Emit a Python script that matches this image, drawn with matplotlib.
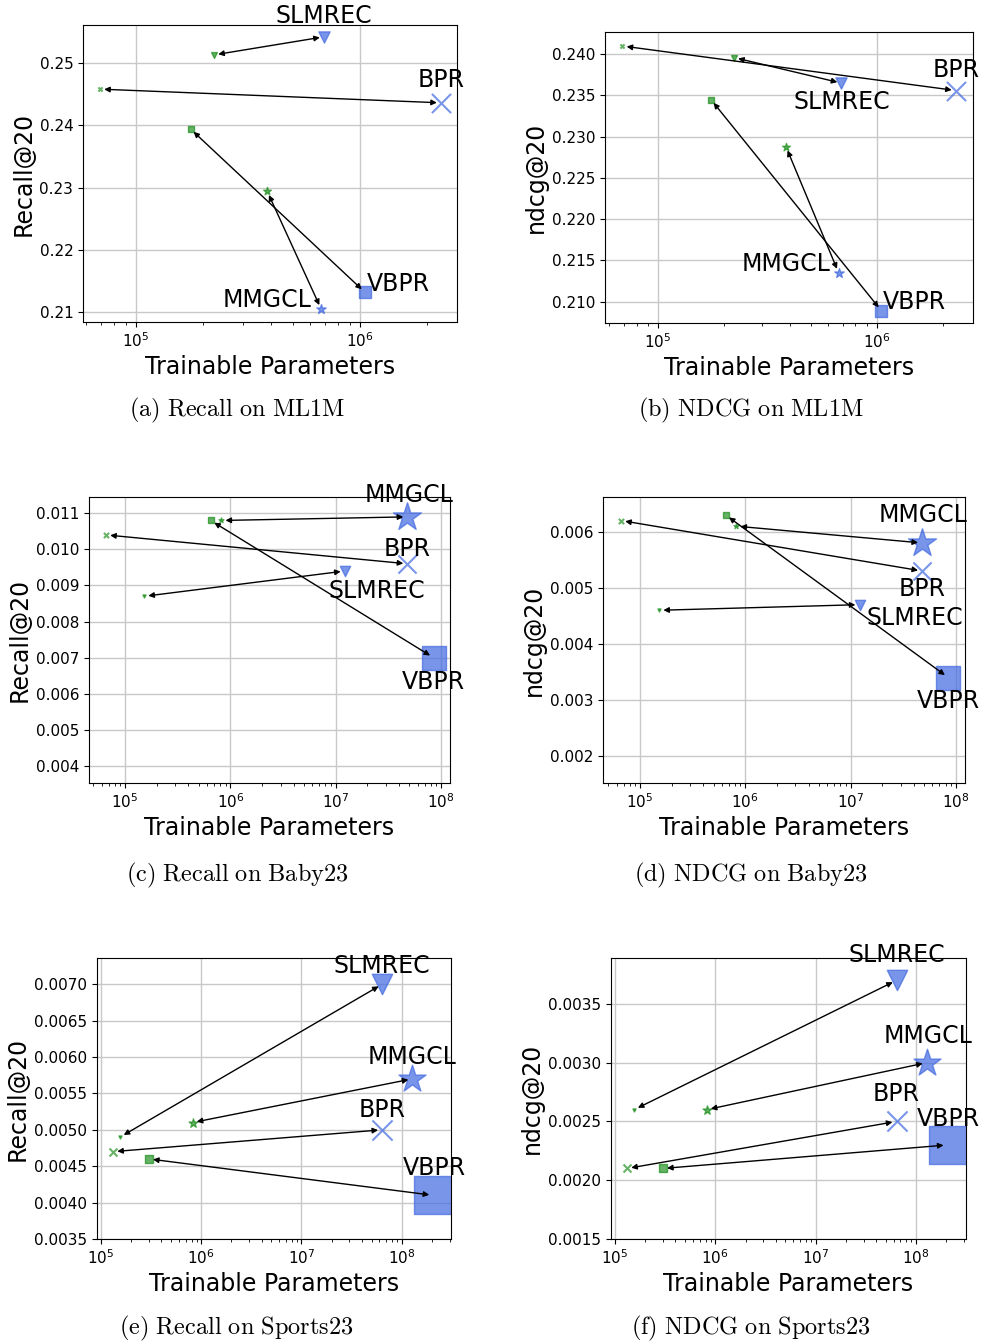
import numpy as np
import matplotlib
matplotlib.use('Agg')
import matplotlib.pyplot as plt
from matplotlib.ticker import MultipleLocator

plt.rcParams['mathtext.fontset'] = 'cm'

MODELS = ['BPR', 'VBPR', 'MMGCL', 'SLMREC']
MARKERS = ['x', 's', '*', 'v']
BLUE = 'royalblue'
GREEN = 'green'

# trainable parameters (blue = original, green = compressed)
ML1M_PARAM = [2.3e6, 1.05e6, 6.7e5, 6.9e5]
ML1M_PARAM_S = [6.9e4, 1.75e5, 3.85e5, 2.23e5]
BABY_PARAM = [4.8e7, 8.5e7, 4.8e7, 1.22e7]
BABY_PARAM_S = [6.6e4, 6.5e5, 8.2e5, 1.52e5]
SPORTS_PARAM = [6.4e7, 2.07e8, 1.28e8, 6.4e7]
SPORTS_PARAM_S = [1.32e5, 3.0e5, 8.2e5, 1.55e5]

# metrics
ML1M_RECALL = [0.2436, 0.2132, 0.2105, 0.2542]
ML1M_RECALL_S = [0.2458, 0.2394, 0.2294, 0.2513]
ML1M_NDCG = [0.2356, 0.2089, 0.2135, 0.2365]
ML1M_NDCG_S = [0.2410, 0.2345, 0.2288, 0.2396]
BABY_RECALL = [0.0096, 0.0070, 0.0109, 0.0094]
BABY_RECALL_S = [0.0104, 0.0108, 0.0108, 0.0087]
BABY_NDCG = [0.0053, 0.0034, 0.0058, 0.0047]
BABY_NDCG_S = [0.0062, 0.0063, 0.0061, 0.0046]
SPORTS_RECALL = [0.0050, 0.0041, 0.0057, 0.0070]
SPORTS_RECALL_S = [0.0047, 0.0046, 0.0051, 0.0049]
SPORTS_NDCG = [0.0025, 0.0023, 0.0030, 0.0037]
SPORTS_NDCG_S = [0.0021, 0.0021, 0.0026, 0.0026]

CAPTIONS = ['(a) Recall on ML1M', '(b) NDCG on ML1M',
            '(c) Recall on Baby23', '(d) NDCG on Baby23',
            '(e) Recall on Sports23', '(f) NDCG on Sports23']

# marker sizes per dataset (style)
BLUE_SIZE = {'ML1M': [190, 80, 50, 65], 'Baby23': [170, 310, 450, 55],
             'Sports23': [210, 710, 420, 215]}
GREEN_SIZE = {'ML1M': [9, 18, 35, 18], 'Baby23': [14, 18, 14, 5],
              'Sports23': [33, 33, 45, 5]}

W, H = 984, 1344


def add_ax(fig, l, r, t, b):
    return fig.add_axes([l / W, 1 - b / H, (r - l) / W, (b - t) / H])


def plot_panel(ax, dataset, params, params_s, vals, vals_s, ylabel,
               xlim, ylim, ystep, offsets):
    for i, m in enumerate(MODELS):
        ax.scatter(params[i], vals[i], s=BLUE_SIZE[dataset][i], marker=MARKERS[i],
                   color=BLUE, alpha=0.7, clip_on=True)
        ax.scatter(params_s[i], vals_s[i], s=GREEN_SIZE[dataset][i], marker=MARKERS[i],
                   color=GREEN, alpha=0.6)
        ax.annotate('', xy=(params[i], vals[i]), xytext=(params_s[i], vals_s[i]),
                    arrowprops=dict(arrowstyle='<|-|>', color='k', lw=1,
                                    mutation_scale=8, shrinkA=3, shrinkB=3))
        dx, dy = offsets[i]
        ax.annotate(m, xy=(params[i], vals[i]), xytext=(dx, dy),
                    textcoords='offset points', ha='center', va='center',
                    fontsize=17, annotation_clip=False)
    ax.set_xscale('log')
    ax.set_xlim(*xlim)
    ax.set_ylim(*ylim)
    ax.yaxis.set_major_locator(MultipleLocator(ystep))
    ax.grid(True, color='#c8c8c8', lw=1)
    ax.set_axisbelow(True)
    ax.tick_params(labelsize=11)
    ax.set_xlabel('Trainable Parameters', fontsize=17, labelpad=3)
    ax.set_ylabel(ylabel, fontsize=17, labelpad=3)


def main():
    fig = plt.figure(figsize=(W / 100, H / 100), dpi=100)

    ax = add_ax(fig, 83, 457, 25, 322)
    plot_panel(ax, 'ML1M', ML1M_PARAM, ML1M_PARAM_S, ML1M_RECALL, ML1M_RECALL_S,
               'Recall@20', (10 ** 4.763, 10 ** 6.433), (0.2084, 0.2561), 0.01,
               [(0, 16.5), (24.5, 6), (-39, 6.5), (0, 15)])

    ax = add_ax(fig, 605, 973, 32, 323)
    plot_panel(ax, 'ML1M', ML1M_PARAM, ML1M_PARAM_S, ML1M_NDCG, ML1M_NDCG_S,
               'ndcg@20', (10 ** 4.759, 10 ** 6.44), (0.2074, 0.2427), 0.005,
               [(0, 15), (23.5, 6.2), (-38, 6.2), (0, -13.4)])

    ax = add_ax(fig, 89, 450, 497, 783)
    plot_panel(ax, 'Baby23', BABY_PARAM, BABY_PARAM_S, BABY_RECALL, BABY_RECALL_S,
               'Recall@20', (10 ** 4.658, 10 ** 8.085), (0.00353, 0.01145), 0.001,
               [(0, 10.6), (0, -17.5), (1, 15.4), (22.8, -14.2)])

    ax = add_ax(fig, 603, 965, 497, 783)
    plot_panel(ax, 'Baby23', BABY_PARAM, BABY_PARAM_S, BABY_NDCG, BABY_NDCG_S,
               'ndcg@20', (10 ** 4.648, 10 ** 8.088), (0.00152, 0.00662), 0.001,
               [(0, -13.2), (0, -17), (0.5, 20), (40, -9.6)])

    ax = add_ax(fig, 97, 451, 958, 1239)
    plot_panel(ax, 'Sports23', SPORTS_PARAM, SPORTS_PARAM_S, SPORTS_RECALL, SPORTS_RECALL_S,
               'Recall@20', (10 ** 4.96, 10 ** 8.492), (0.0035, 0.00736), 0.0005,
               [(0, 14.6), (0.7, 19.4), (0, 15.8), (0, 13.2)])

    ax = add_ax(fig, 611, 966, 958, 1239)
    plot_panel(ax, 'Sports23', SPORTS_PARAM, SPORTS_PARAM_S, SPORTS_NDCG, SPORTS_NDCG_S,
               'ndcg@20', (10 ** 4.96, 10 ** 8.4985), (0.0015, 0.00389), 0.0005,
               [(0, 19.7), (0.7, 19), (1, 19.2), (0.5, 18.5)])

    cap_pos = [(237, 410), (751, 410), (237, 875), (751, 875), (236, 1328), (751, 1328)]
    for cap, (cx, cy) in zip(CAPTIONS, cap_pos):
        txt = r'$\mathrm{' + cap.replace(' ', r'\ ') + '}$'
        fig.text(cx / W, 1 - cy / H, txt, ha='center', va='center', fontsize=17.5)

    plt.savefig('out.png', dpi=100)


if __name__ == '__main__':
    main()
